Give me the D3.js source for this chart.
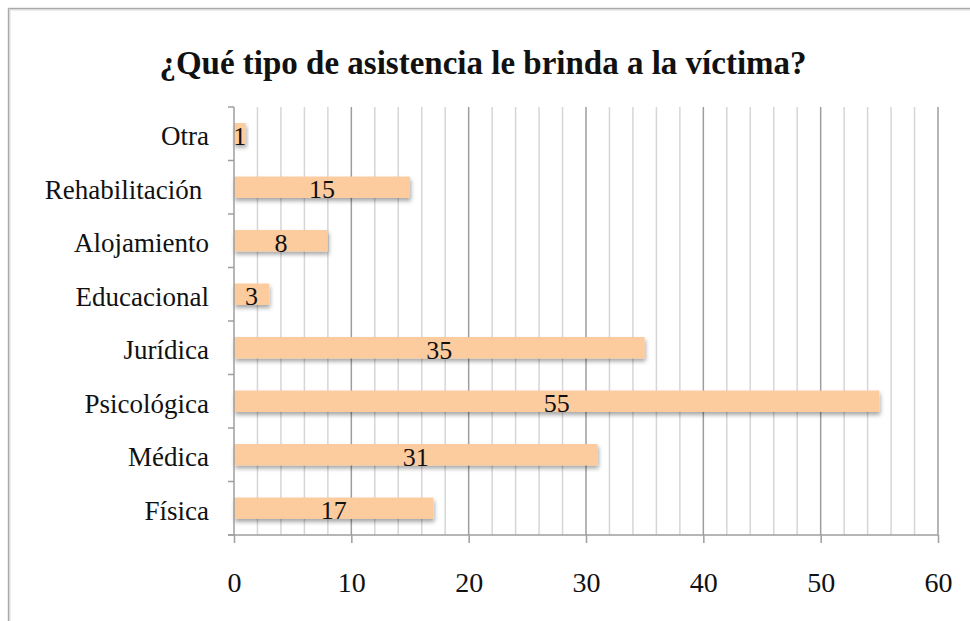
<!DOCTYPE html>
<html>
<head>
<meta charset="utf-8">
<script src="https://cdn.jsdelivr.net/npm/d3@7"></script>
<style>
  html, body { margin: 0; padding: 0; background: #fff; }
  svg { display: block; }
  text { font-family: "Liberation Serif", "DejaVu Serif", serif; fill: #111; }
</style>
</head>
<body>
<svg id="chart" width="970" height="621"></svg>
<script>
// Categories listed bottom to top, as drawn
const categories = ["Física", "Médica", "Psicológica", "Jurídica", "Educacional", "Alojamiento", "Rehabilitación ", "Otra"];
const values = [17, 31, 55, 35, 3, 8, 15, 1];
const xTicks = [0, 10, 20, 30, 40, 50, 60];
const minorGrid = d3.range(0, 61, 2);
const title = "¿Qué tipo de asistencia le brinda a la víctima?";

const svg = d3.select("#chart");
const W = 970, H = 621;
const plot = { left: 234, right: 938, top: 107, bottom: 535 };

// Outer frame
svg.append("rect").attr("x", 9).attr("y", 9).attr("width", W + 10).attr("height", H + 10)
  .attr("fill", "none").attr("stroke", "#dcdcdc").attr("stroke-width", 3);
svg.append("path").attr("d", `M8.5,${H + 5}V8.5H${W + 5}`)
  .attr("fill", "none").attr("stroke", "#a8a8a8").attr("stroke-width", 1);

// Title
svg.append("text")
  .attr("x", 483).attr("y", 74)
  .attr("text-anchor", "middle")
  .style("font-size", "33px").style("font-weight", "bold")
  .text(title);

const x = d3.scaleLinear().domain([0, 60]).range([plot.left, plot.right]);
const y = d3.scaleBand().domain(categories.slice().reverse())
  .range([plot.top, plot.bottom]).paddingInner(0.6).paddingOuter(0.3);
const band = d3.scaleBand().domain(categories.slice().reverse())
  .range([plot.top, plot.bottom]);

// Gridlines: light every 2 units, darker every 10
svg.append("g").selectAll("line").data(minorGrid.filter(v => v % 10 !== 0))
  .join("line")
  .attr("x1", d => x(d)).attr("x2", d => x(d))
  .attr("y1", plot.top).attr("y2", plot.bottom)
  .attr("stroke", "#d6d6d6").attr("stroke-width", 1.5);
svg.append("g").selectAll("line").data(xTicks.filter(v => v > 0))
  .join("line")
  .attr("x1", d => x(d)).attr("x2", d => x(d))
  .attr("y1", plot.top).attr("y2", plot.bottom)
  .attr("stroke", "#9e9e9e").attr("stroke-width", 1.5);

// Soft drop shadow under bars
const defs = svg.append("defs");
const f = defs.append("filter").attr("id", "shadow")
  .attr("x", "-10%").attr("y", "-30%").attr("width", "130%").attr("height", "180%");
f.append("feDropShadow").attr("dx", 1).attr("dy", 3).attr("stdDeviation", 2)
  .attr("flood-color", "#000").attr("flood-opacity", 0.35);

const rows = categories.map((c, i) => ({ cat: c, val: values[i] }));

svg.append("g").selectAll("rect").data(rows).join("rect")
  .attr("x", x(0))
  .attr("y", d => y(d.cat))
  .attr("width", d => x(d.val) - x(0))
  .attr("height", y.bandwidth())
  .attr("fill", "#fccb9e")
  .attr("filter", "url(#shadow)");

// Value labels centred in each bar
svg.append("g").selectAll("text").data(rows).join("text")
  .attr("x", d => (x(0) + x(d.val)) / 2)
  .attr("y", d => y(d.cat) + y.bandwidth() / 2)
  .attr("dy", "0.42em")
  .attr("text-anchor", "middle")
  .style("font-size", "26px")
  .text(d => d.val);

// Y axis line with ticks at category boundaries
svg.append("line").attr("x1", plot.left).attr("x2", plot.left)
  .attr("y1", plot.top).attr("y2", plot.bottom)
  .attr("stroke", "#9e9e9e").attr("stroke-width", 1.5);
const bounds = categories.slice().reverse().map(c => band(c)).concat([plot.bottom]);
svg.append("g").selectAll("line").data(bounds).join("line")
  .attr("x1", plot.left - 6).attr("x2", plot.left)
  .attr("y1", d => d).attr("y2", d => d)
  .attr("stroke", "#9e9e9e").attr("stroke-width", 1.5);

// Category labels
svg.append("g").selectAll("text").data(rows).join("text")
  .attr("x", 209)
  .attr("y", d => band(d.cat) + band.bandwidth() / 2)
  .attr("dy", "0.42em")
  .attr("text-anchor", "end")
  .style("font-size", "27px")
  .style("white-space", "pre")
  .text(d => d.cat);

// X axis
const xAxis = d3.axisBottom(x).tickValues(xTicks).tickSize(8);
const gx = svg.append("g").attr("transform", `translate(0,${plot.bottom})`).call(xAxis);
gx.select(".domain").attr("stroke", "#9e9e9e").attr("stroke-width", 1.5)
  .attr("d", `M${plot.left - 6},0H${plot.right}`);
gx.selectAll(".tick line").attr("stroke", "#9e9e9e").attr("stroke-width", 1.5);
gx.selectAll(".tick text")
  .attr("y", 57).attr("dy", 0)
  .style("font-size", "28px")
  .style("font-family", "'Liberation Serif', serif").attr("fill", "#111");
</script>
</body>
</html>
